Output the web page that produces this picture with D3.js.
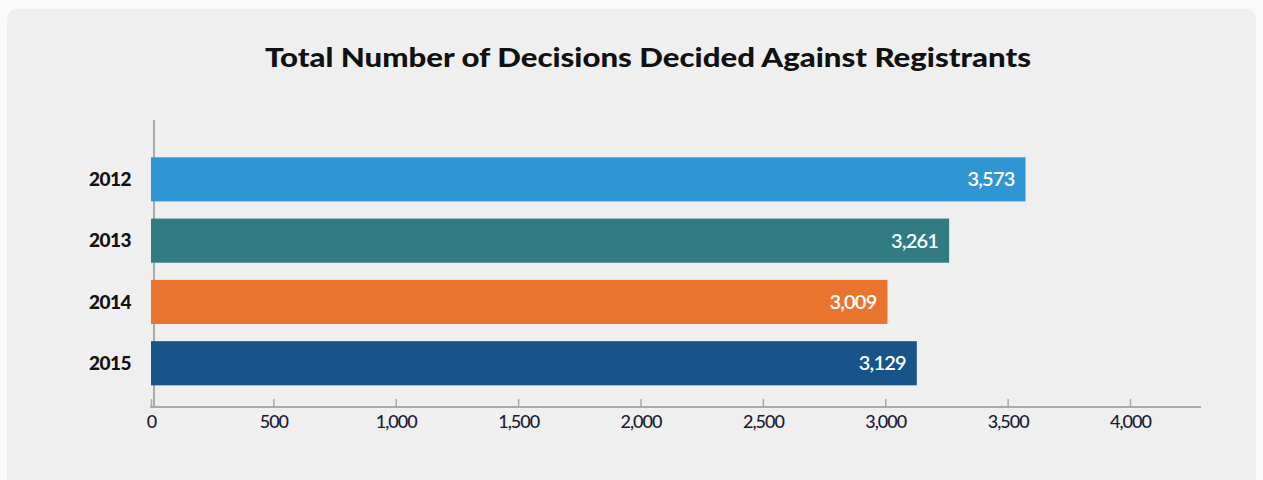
<!DOCTYPE html>
<html><head><meta charset="utf-8">
<script src="https://cdn.jsdelivr.net/npm/d3@7"></script>
<style>
html,body{margin:0;padding:0;background:#fafafa;}
svg{display:block;}
</style></head>
<body>
<svg id="chart" width="1263" height="480"></svg>
<script>
const title = "Total Number of Decisions Decided Against Registrants";
const years = ["2012", "2013", "2014", "2015"];
const decisions = [3573, 3261, 3009, 3129];
const barColors = ["#3096d3", "#317b82", "#e9742d", "#18538a"];
const tickValues = [0, 500, 1000, 1500, 2000, 2500, 3000, 3500, 4000];

const svg = d3.select("#chart");
const font = "Lato, 'Source Sans Pro', 'Open Sans', sans-serif";

svg.append("rect").attr("x", 7).attr("y", 9).attr("width", 1249).attr("height", 490)
  .attr("rx", 10).attr("fill", "#efefef");

svg.append("text").attr("x", 648).attr("y", 67).attr("text-anchor", "middle")
  .attr("font-family", font).attr("font-weight", 900).attr("font-size", 27)
  .attr("fill", "#111").attr("textLength", 766).attr("lengthAdjust", "spacingAndGlyphs")
  .text(title);

const x = d3.scaleLinear().domain([0, 4000]).range([151, 1130]);
const y = d3.scaleBand().domain(years).range([148.7, 393.9]).paddingInner(0.28).paddingOuter(0.14);

// y axis line
svg.append("line").attr("x1", 154).attr("x2", 154).attr("y1", 120).attr("y2", 407)
  .attr("stroke", "#a9a9b0").attr("stroke-width", 2);

// x axis
const xAxis = d3.axisBottom(x).tickValues(tickValues).tickSize(-8).tickPadding(16)
  .tickFormat(d3.format(","));
const gx = svg.append("g").attr("transform", "translate(0,407)").call(xAxis);
gx.select(".domain").remove();
gx.append("line").attr("x1", 150).attr("x2", 1201).attr("y1", 0).attr("y2", 0)
  .attr("stroke", "#a9a9b0").attr("stroke-width", 2);
gx.selectAll(".tick line").attr("stroke", "#a9a9b0").attr("stroke-width", 1.5);
gx.selectAll(".tick text").attr("font-family", font).attr("font-size", 18)
  .attr("font-weight", 500)
  .attr("fill", "#1b1b33").attr("dy", "0.35em").attr("y", 15)
  .attr("letter-spacing", "-1px");

const data = years.map((yr, i) => ({year: yr, value: decisions[i], color: barColors[i]}));

svg.selectAll("rect.bar").data(data).join("rect").attr("class", "bar")
  .attr("x", x(0)).attr("y", d => y(d.year))
  .attr("width", d => x(d.value) - x(0)).attr("height", y.bandwidth())
  .attr("fill", d => d.color);

svg.selectAll("text.val").data(data).join("text").attr("class", "val")
  .attr("x", d => x(d.value) - 11).attr("y", d => y(d.year) + y.bandwidth() / 2)
  .attr("dy", "0.35em").attr("text-anchor", "end")
  .attr("font-family", font).attr("font-size", 20).attr("font-weight", 600)
  .attr("letter-spacing", "-0.8px")
  .attr("fill", "#fff").text(d => d3.format(",")(d.value));

svg.selectAll("text.yr").data(data).join("text").attr("class", "yr")
  .attr("x", 131).attr("y", d => y(d.year) + y.bandwidth() / 2)
  .attr("dy", "0.35em").attr("text-anchor", "end")
  .attr("font-family", font).attr("font-size", 19).attr("font-weight", 900)
  .attr("letter-spacing", "-0.5px")
  .attr("fill", "#111").text(d => d.year);
</script>
</body></html>
